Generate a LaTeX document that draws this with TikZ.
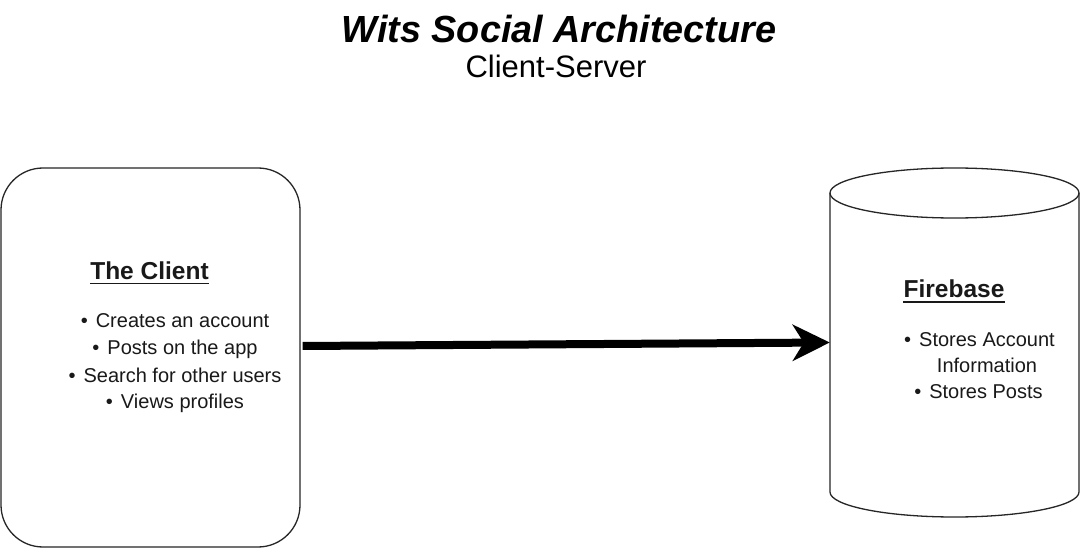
\documentclass[tikz,border=0pt]{standalone}
\usepackage{fontspec}
\setmainfont{Liberation Sans}
\usetikzlibrary{arrows.meta}
\begin{document}
\begin{tikzpicture}[x=1pt,y=-1pt,
  shapeline/.style={line width=1.3pt, draw=black!85},
  txt/.style={anchor=base, inner sep=0pt, text=black!90, font=\fontsize{20}{24}\selectfont},
  head/.style={anchor=base, inner sep=0pt, text=black!90, font=\bfseries\fontsize{24.5}{29}\selectfont},
  uline/.style={line width=1.5pt, draw=black!90},
  bigarrow/.style={line width=8pt, -{Stealth[length=37pt, width=36pt, inset=11pt]}}
]
\useasboundingbox (0,0) rectangle (1080,548);
\fill[white] (0,0) rectangle (1080,548);

% title
\node (title) [anchor=base, inner sep=0pt, font=\bfseries\itshape\fontsize{37.8}{44}\selectfont] at (559,43) {Wits Social Architecture};
\node (subtitle) [anchor=base, inner sep=0pt, font=\fontsize{31}{36}\selectfont] at (556,78) {Client-Server};

% client box
\node (client) [shapeline, draw, rounded corners=42pt, minimum width=299pt, minimum height=379pt, inner sep=0pt] at (150.5,357.5) {};

% database cylinder
\node (db) [minimum width=249pt, minimum height=349pt, inner sep=0pt] at (954.5,342.5) {};
\filldraw[shapeline, fill=white] (830,193) -- (830,492) arc[start angle=180, end angle=0, x radius=124.5, y radius=25] -- (1079,193);
\draw[shapeline] (954.5,193) ellipse[x radius=124.5, y radius=25];

% arrow
\coordinate (astart) at ([xshift=2pt]client.east |- 0,346);
\draw[bigarrow] (astart) -- (db.west);

% client text
\node (clienthead) [head] at (149.5,280) {The Client};
\draw[uline] ([yshift=-3.5pt]clienthead.base west) -- ([yshift=-3.5pt]clienthead.base east);
\node (c1) [txt] at (175,327) {•\hspace{8pt}Creates an account};
\node (c2) [txt] at (175,355) {•\hspace{8pt}Posts on the app};
\node (c3) [txt] at (175,382) {•\hspace{8pt}Search for other users};
\node (c4) [txt] at (175,408) {•\hspace{8pt}Views profiles};

% firebase text
\node (dbhead) [head] at (954,298) {Firebase};
\draw[uline] ([yshift=-4pt]dbhead.base west) -- ([yshift=-4pt]dbhead.base east);
\node (f1) [txt] at (979.5,347) {•\hspace{8pt}Stores Account};
\node (f2) [txt] at (987,373) {Information};
\node (f3) [txt] at (978.5,398) {•\hspace{8pt}Stores Posts};
\end{tikzpicture}
\end{document}
